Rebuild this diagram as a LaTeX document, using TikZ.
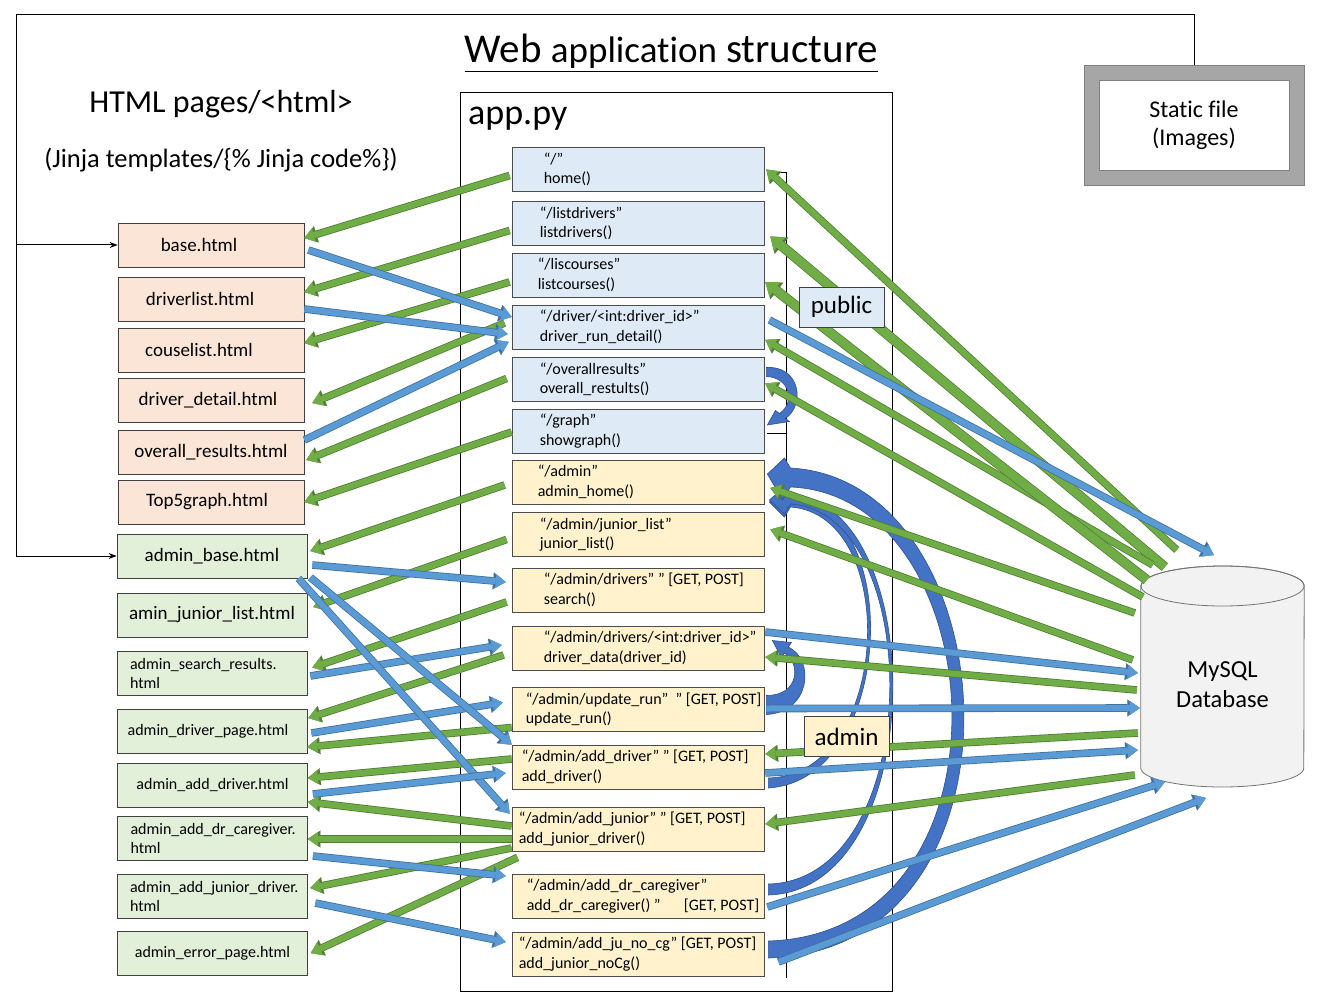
\documentclass[tikz,border=0pt]{standalone}
\usepackage{fontspec}
\setmainfont{Carlito}[Ligatures=CommonOff]
\usetikzlibrary{arrows.meta}

\definecolor{pubblue}{HTML}{DEEBF7}
\definecolor{admyellow}{HTML}{FFF2CC}
\definecolor{pagepink}{HTML}{FBE5D6}
\definecolor{pagegreen}{HTML}{E2F0D9}
\definecolor{gfill}{HTML}{70AD47}
\definecolor{gline}{HTML}{507E32}
\definecolor{bfill}{HTML}{5B9BD5}
\definecolor{bline}{HTML}{41719C}
\definecolor{cfill}{HTML}{4472C4}
\definecolor{cline}{HTML}{2F528F}
\definecolor{dbfill}{HTML}{F2F2F2}
\definecolor{sgray}{HTML}{A6A6A6}

\tikzset{
  route/.style={draw=black!70, line width=0.8pt, minimum width=252pt, minimum height=44pt, inner sep=0pt},
  pubroute/.style={route, fill=pubblue},
  admroute/.style={route, fill=admyellow},
  routetext/.style={anchor=west, inner sep=0pt, align=left, font=\fontsize{16}{19.5}\selectfont},
  page/.style={draw=black!75, line width=0.8pt, minimum height=44pt, inner sep=0pt, font=\fontsize{19}{23}\selectfont},
  pubpage/.style={page, fill=pagepink, minimum width=186pt},
  admpage/.style={page, fill=pagegreen, minimum width=190pt},
  smallpage/.style={admpage, font=\fontsize{16}{19}\selectfont},
  twoline/.style={smallpage, align=left, text width=164pt},
  tag/.style={draw=black!75, line width=0.8pt, minimum width=85pt, minimum height=40pt, font=\fontsize{25}{28}\selectfont},
  render/.style={draw=gfill, line width=6pt, -{Triangle[width=14pt,length=10pt,line width=0.1pt]},
    preaction={draw=gline, line width=7.6pt, -{Triangle[width=17pt,length=12.5pt,line width=0.1pt]}}},
  renderthick/.style={draw=gfill, line width=8.5pt, -{Triangle[width=18pt,length=12pt,line width=0.1pt]},
    preaction={draw=gline, line width=10pt, -{Triangle[width=21pt,length=14.5pt,line width=0.1pt]}}},
  request/.style={draw=bfill, line width=6pt, -{Triangle[width=14pt,length=10pt,line width=0.1pt]},
    preaction={draw=bline, line width=7.6pt, -{Triangle[width=17pt,length=12.5pt,line width=0.1pt]}}},
  redirect/.style={fill=cfill, draw=cline, line width=0.6pt},
  frame/.style={line width=1pt, -{Stealth[length=8pt,width=6pt]}}
}

\begin{document}
\begin{tikzpicture}[x=1pt,y=-1pt]
\useasboundingbox (0,0) rectangle (1344,1008);

\node[anchor=base, inner sep=0pt] (title) at (671.5,63)
  {\fontsize{41}{44}\selectfont Web {\fontsize{37}{40}\selectfont application} structure};
\draw[line width=1.6pt] ([yshift=-8.5pt]title.base west) -- ([yshift=-8.5pt]title.base east);
\node[anchor=base, font=\fontsize{32}{36}\selectfont] (pagestitle) at (221,113) {HTML pages/<html>};
\node[anchor=base, font=\fontsize{26.5}{30}\selectfont] (jinja) at (221,168) {(Jinja templates/\{\% Jinja code\%\})};

\node[draw=black!50, line width=0.8pt, fill=sgray, minimum width=220pt, minimum height=120pt] (sfile) at (1194,125) {};
\node[draw=black!50, line width=0.8pt, fill=white, minimum width=190pt, minimum height=90pt, align=center,
  font=\fontsize{24}{28}\selectfont] (simages) at (sfile.center) {Static file\\(Images)};

\node[draw, line width=0.8pt, minimum width=432pt, minimum height=899pt] (app) at (676,541.5) {};
\node[anchor=base west, inner sep=0pt, font=\fontsize{36}{40}\selectfont] (apptitle) at (468,125) {app.py};

% routes in app.py
\node[pubroute] (rHome) at (638,169.5) {};
\node[pubroute] (rDrivers) at (638,223.5) {};
\node[pubroute] (rCourses) at (638,275) {};
\node[pubroute] (rDriver) at (638,327) {};
\node[pubroute] (rOverall) at (638,379.5) {};
\node[pubroute] (rGraph) at (638,431) {};
\node[admroute] (rAdmin) at (638,482) {};
\node[admroute] (rJunior) at (638,534.5) {};
\node[admroute] (rSearch) at (638,590) {};
\node[admroute] (rDriverData) at (638,648) {};
\node[admroute] (rUpdate) at (638,709.5) {};
\node[admroute] (rAddDriver) at (638,767) {};
\node[admroute] (rAddJunior) at (638,829) {};
\node[admroute] (rCaregiver) at (638,896) {};
\node[admroute] (rNoCg) at (638,954) {};

\node[routetext] (tHome) at ([xshift=32pt]rHome.west) {“/”\\home()};
\node[routetext] (tDrivers) at ([xshift=28pt]rDrivers.west) {“/listdrivers”\\listdrivers()};
\node[routetext] (tCourses) at ([xshift=26pt]rCourses.west) {“/liscourses”\\listcourses()};
\node[routetext] (tDriver) at ([xshift=28pt]rDriver.west) {“/driver/<int:driver\_id>”\\driver\_run\_detail()};
\node[routetext] (tOverall) at ([xshift=28pt]rOverall.west) {“/overallresults”\\overall\_restults()};
\node[routetext] (tGraph) at ([xshift=28pt]rGraph.west) {“/graph”\\showgraph()};
\node[routetext] (tAdmin) at ([xshift=26pt]rAdmin.west) {“/admin”\\admin\_home()};
\node[routetext] (tJunior) at ([xshift=28pt]rJunior.west) {“/admin/junior\_list”\\junior\_list()};
\node[routetext] (tSearch) at ([xshift=32pt]rSearch.west) {“/admin/drivers” ” [GET, POST]\\search()};
\node[routetext] (tDriverData) at ([xshift=32pt]rDriverData.west) {“/admin/drivers/<int:driver\_id>”\\driver\_data(driver\_id)};
\node[routetext] (tUpdate) at ([xshift=14pt]rUpdate.west) {“/admin/update\_run”\ \ ” [GET, POST]\\update\_run()};
\node[routetext] (tAddDriver) at ([xshift=10pt]rAddDriver.west) {“/admin/add\_driver” ” [GET, POST]\\add\_driver()};
\node[routetext] (tAddJunior) at ([xshift=7pt]rAddJunior.west) {“/admin/add\_junior” ” [GET, POST]\\add\_junior\_driver()};
\node[routetext] (tCaregiver) at ([xshift=15pt]rCaregiver.west) {“/admin/add\_dr\_caregiver”\\add\_dr\_caregiver() ”\quad\ \ [GET, POST]};
\node[routetext] (tNoCg) at ([xshift=7pt]rNoCg.west) {“/admin/add\_ju\_no\_cg” [GET, POST]\\add\_junior\_noCg()};

% html pages
\node[pubpage] (hBase) at (211,245) {\hspace*{-24pt}base.html};
\node[pubpage] (hDriverlist) at (211,299) {\hspace*{-22pt}driverlist.html};
\node[pubpage] (hCouselist) at (211,350) {\hspace*{-24pt}couselist.html};
\node[pubpage] (hDetail) at (211,400) {\hspace*{-6pt}driver\_detail.html};
\node[pubpage] (hOverall) at (211,452) {overall\_results.html};
\node[pubpage] (hTop) at (211,502) {\hspace*{-8pt}Top5graph.html};
\node[admpage] (hAdminBase) at (212,556) {admin\_base.html};
\node[admpage] (hAminJunior) at (212,615) {amin\_junior\_list.html};
\node[twoline] (hSearchRes) at (212,673.5) {admin\_search\_results.\\html};
\node[smallpage] (hDriverPage) at (212,731) {\hspace*{-8pt}admin\_driver\_page.html};
\node[smallpage] (hAddDriver) at (212.5,785) {admin\_add\_driver.html};
\node[twoline] (hCaregiver) at (212.5,838) {admin\_add\_dr\_caregiver.\\html};
\node[twoline] (hJuniorDriver) at (212,896) {admin\_add\_junior\_driver.\\html};
\node[smallpage] (hError) at (212.5,953) {admin\_error\_page.html};

\coordinate (corner) at (16,15);
\draw[frame] (sfile.north) |- (corner) |- (hAdminBase.west);
\draw[frame] (corner |- hBase.west) -- (hBase.west);

\draw[line width=0.6pt] ([xshift=3pt,yshift=-2.5pt]rHome.east) -| ([xshift=22pt,yshift=-2pt]rGraph.east)
  -- ([xshift=3pt,yshift=-2pt]rGraph.east);
\draw[line width=0.6pt] ([xshift=22pt,yshift=-2pt]rGraph.east) -- ([xshift=22pt,yshift=-24pt]rNoCg.east);

% database
\node[minimum width=163pt, minimum height=240pt] (db) at (1222.5,685) {};
\draw[draw=black!55, fill=dbfill, line width=0.8pt] ([yshift=99pt]db.west) -- ([yshift=-83pt]db.west)
  arc[start angle=180, end angle=0, x radius=81.5, y radius=19] -- ([yshift=99pt]db.east)
  arc[start angle=0, end angle=-180, x radius=81.5, y radius=20] -- cycle;
\draw[draw=black!55, line width=0.8pt] ([yshift=99pt]db.center) ellipse[x radius=81.5, y radius=20];
\node[align=center, font=\fontsize{24.5}{30}\selectfont] (dbtext) at (db.center) {MySQL\\Database};

% redirects between routes
\draw[redirect] ([xshift=2pt,yshift=12pt]rOverall.east)
  .. controls +(34,-2) and +(20,-13.5) .. ([xshift=21pt,yshift=12.5pt]rGraph.east)
  -- ++(4,3) -- ++(-22,3.5) -- ++(8,-14.5) -- ++(4,3)
  .. controls +(16,-10.5) and +(24,1) .. ([xshift=2pt,yshift=3pt]rOverall.east) -- cycle;
\draw[redirect] ([xshift=2pt,yshift=-5pt]rUpdate.east)
  .. controls +(44,-2) and +(27,13) .. ([xshift=24pt,yshift=1pt]rDriverData.east)
  -- ++(3,-4.5) -- ++(-19,-2) -- ++(9,17) -- ++(3,-4.5)
  .. controls +(16,9) and +(34,0) .. ([xshift=2pt,yshift=14pt]rUpdate.east) -- cycle;
\draw[redirect] ([xshift=4pt,yshift=-21pt]rAddDriver.east)
  .. controls +(127,-8) and +(115,8) .. ([xshift=26pt,yshift=-15pt]rAdmin.east)
  -- ++(-4,-9) -- ++(-17,14) -- ++(15,15) -- ++(6,-10)
  .. controls +(111,8) and +(123,-3) .. ([xshift=4pt,yshift=-11pt]rAddDriver.east) -- cycle;
\draw[redirect] ([xshift=4pt,yshift=1pt]rCaregiver.east)
  .. controls +(162,-5) and +(140,11) .. ([xshift=26pt,yshift=-12pt]rAdmin.east)
  -- ++(-4,-9) -- ++(-17,15) -- ++(15,14) -- ++(6,-10)
  .. controls +(136,8) and +(158,-4) .. ([xshift=4pt,yshift=12pt]rCaregiver.east) -- cycle;
\draw[redirect] ([xshift=4pt,yshift=-4pt]rNoCg.east)
  .. controls +(272,-8) and +(220,12) .. ([xshift=26pt,yshift=14pt]rAdmin.east)
  -- ++(-6,-10) -- ++(-17,16) -- ++(15,26) -- ++(8,-13)
  .. controls +(204,8) and +(256,-8) .. ([xshift=4pt,yshift=13pt]rNoCg.east) -- cycle;

% pages <-> routes
\draw[render] ([xshift=-2pt,yshift=-6pt]rHome.west) -- ([yshift=7pt]hBase.east);
\draw[render] ([xshift=-2pt,yshift=-7pt]rDrivers.west) -- ([yshift=7pt]hDriverlist.east);
\draw[render] ([xshift=-2pt,yshift=-7pt]rCourses.west) -- ([yshift=7pt]hCouselist.east);
\draw[render] ([xshift=-7pt,yshift=4pt]rDriver.west) -- ([xshift=8pt,yshift=-3pt]hDetail.east);
\draw[render] ([xshift=-5pt,yshift=1pt]rOverall.west) -- ([xshift=2pt,yshift=-8pt]hOverall.east);
\draw[render] ([yshift=-1pt]rGraph.west) -- (hTop.east);
\draw[render] ([xshift=-7pt,yshift=-3pt]rAdmin.west) -- ([xshift=3pt,yshift=5pt]hAdminBase.east);
\draw[render] ([xshift=-5pt,yshift=-5pt]rJunior.west) -- ([xshift=6pt,yshift=8pt]hAminJunior.east);
\draw[render] ([xshift=-5pt,yshift=-12pt]rSearch.west) -- ([xshift=5pt,yshift=6pt]hSearchRes.east);
\draw[render] ([xshift=-8pt,yshift=-7pt]rDriverData.west) -- ([xshift=1pt,yshift=13pt]hDriverPage.east);
\draw[render] ([yshift=-18pt]rUpdate.west) -- ([yshift=-16pt]hDriverPage.east);
\draw[render] ([yshift=8pt]rAddDriver.west) -- ([yshift=7pt]hAddDriver.east);
\draw[render] ([yshift=3pt]rAddJunior.west) -- ([yshift=-17pt]hAddDriver.east);
\draw[render] ([yshift=-10pt]rAddJunior.west) -- ([yshift=-1pt]hCaregiver.east);
\draw[render] ([yshift=-19pt]rAddJunior.west) -- ([xshift=3pt,yshift=8pt]hJuniorDriver.east);
\draw[render] ([xshift=6pt,yshift=-6pt]rAddJunior.south west) -- ([xshift=3pt]hError.east);

\draw[request] ([xshift=4pt,yshift=-5pt]hBase.east) -- ([yshift=10pt]rDriver.west);
\draw[request] ([yshift=-10pt]hDriverlist.east) -- ([xshift=-4pt,yshift=-7pt]rDriver.west);
\draw[request] ([yshift=12pt]hOverall.east) -- ([xshift=-3pt,yshift=-15pt]rDriver.west);
\draw[request] ([xshift=5pt,yshift=-9pt]hAdminBase.east) -- ([xshift=-6pt,yshift=8pt]rSearch.west);
\draw[request] ([xshift=3pt,yshift=-2.5pt]hSearchRes.east) -- ([xshift=-10pt,yshift=3pt]rDriverData.west);
\draw[request] ([xshift=4pt,yshift=-2pt]hDriverPage.east) -- ([xshift=-9pt,yshift=7pt]rUpdate.west);
\draw[request] ([xshift=3pt,yshift=1pt]hAdminBase.south east) -- (rAddDriver.north west);
\draw[request] ([xshift=-9pt]hAdminBase.south east) -- ([xshift=-2pt,yshift=-7pt]rAddJunior.north west);
\draw[request] ([xshift=5pt,yshift=-9pt]hAddDriver.east) -- ([xshift=-6pt,yshift=-6pt]rAddDriver.west);
\draw[request] ([xshift=5pt,yshift=-18pt]hCaregiver.east) -- ([xshift=-6pt,yshift=20pt]rCaregiver.west);
\draw[request] ([xshift=8pt,yshift=-7pt]hJuniorDriver.east) -- ([xshift=-6pt,yshift=12pt]rNoCg.west);

% routes <-> database
\draw[render] ([xshift=36pt,yshift=135pt]db.west) -- ([xshift=2pt]rHome.east);
\draw[renderthick] ([xshift=24pt,yshift=118pt]db.west) -- ([xshift=6pt,yshift=-13pt]rDrivers.east);
\draw[render] ([xshift=12pt,yshift=120pt]db.west) -- ([xshift=1pt,yshift=-13pt]rDriver.east);
\draw[renderthick] ([xshift=6pt,yshift=105pt]db.west) -- ([xshift=1pt,yshift=-7pt]rCourses.east);
\draw[render] ([xshift=2pt,yshift=88pt]db.west) -- ([xshift=1pt,yshift=-4pt]rOverall.east);
\draw[render] ([xshift=-6pt,yshift=72pt]db.west) -- ([xshift=6pt,yshift=-6pt]rAdmin.east);
\draw[render] ([xshift=-8pt,yshift=25pt]db.west) -- ([xshift=6pt,yshift=5pt]rJunior.east);
\draw[render] ([xshift=-4pt,yshift=-5pt]db.west) -- ([xshift=1pt,yshift=-9pt]rDriverData.east);
\draw[render] ([xshift=-3pt,yshift=-48pt]db.west) -- ([xshift=1pt,yshift=13pt]rAddDriver.east);
\draw[render] ([xshift=-6pt,yshift=-90pt]db.west) -- ([xshift=1pt,yshift=5pt]rAddJunior.east);

\draw[request] ([xshift=5pt,yshift=7pt]rDriver.east) -- ([xshift=73pt,yshift=130pt]db.west);
\draw[request] ([xshift=1pt,yshift=16pt]rDriverData.east) -- ([xshift=-3pt,yshift=12pt]db.west);
\draw[request] ([xshift=2pt,yshift=1pt]rUpdate.east) -- ([xshift=-1pt,yshift=-23pt]db.west);
\draw[request] ([xshift=1pt,yshift=-6pt]rAddDriver.east) -- ([xshift=-3pt,yshift=-65pt]db.west);
\draw[request] ([xshift=3pt,yshift=-11pt]rCaregiver.east) -- ([xshift=24pt,yshift=-97pt]db.west);
\draw[request] ([xshift=14pt,yshift=-8pt]rNoCg.east) -- ([xshift=65pt,yshift=-113pt]db.west);

\node[tag, fill=pubblue] (public) at (841.5,307) {public};
\node[tag, fill=admyellow] (admin) at (846.5,736.5) {admin};
\end{tikzpicture}
\end{document}
